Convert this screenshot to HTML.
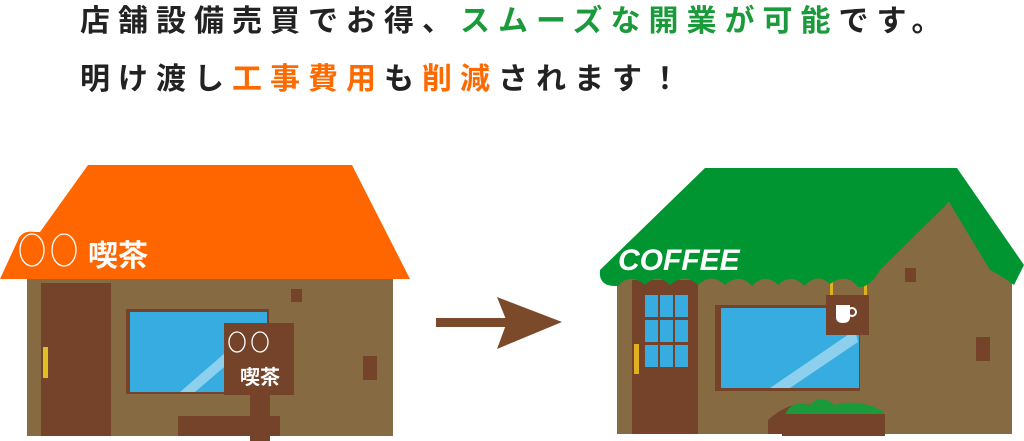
<!DOCTYPE html>
<html><head><meta charset="utf-8"><style>
body{margin:0;width:1024px;height:441px;background:#fff;overflow:hidden;position:relative;font-family:"Liberation Sans","Noto Sans CJK JP",sans-serif}
.t{position:absolute;left:80px;font-size:30px;font-weight:bold;letter-spacing:8px;color:#222;white-space:nowrap;line-height:40px}
.g{color:#1a9a3a}.o{color:#ff6a00}
</style></head><body>
<div class="t" style="top:2px">店舗設備売買でお得、<span class="g">スムーズな開業が可能</span>です。</div>
<div class="t" style="top:60px">明け渡し<span class="o">工事費用</span>も<span class="o">削減</span>されます！</div>
<svg width="1024" height="441" style="position:absolute;left:0;top:0">
<!-- left house -->
<rect x="27" y="276" width="366" height="160" fill="#866a42"/>
<rect x="41" y="283" width="70" height="153" fill="#75432a"/>
<rect x="43" y="347" width="5" height="31" fill="#e0c020"/>
<rect x="126" y="309" width="143" height="85" fill="#75432a"/>
<rect x="130" y="312" width="137" height="80" fill="#36ace0"/>
<path d="M180 392 L240 340 L250 345 L195 392Z" fill="#8cd0ee"/>
<rect x="291" y="289" width="11" height="13" fill="#75432a"/>
<rect x="363" y="356" width="14" height="24" fill="#75432a"/>
<rect x="178" y="416" width="102" height="20" fill="#75432a"/>
<rect x="250" y="390" width="20" height="51" fill="#75432a"/>
<rect x="224" y="323" width="70" height="72" fill="#75432a"/>
<g fill="none" stroke="#fff" stroke-width="1.3"><ellipse cx="237" cy="342" rx="8" ry="10"/><ellipse cx="260" cy="342" rx="8" ry="10"/></g>
<text x="240" y="384" font-size="20" font-weight="bold" fill="#fff" font-family="Liberation Sans,Noto Sans CJK JP,sans-serif">喫茶</text>
<path d="M88 165 L352 165 L410 279 L0 279 L18 240 Q22 230 35 232 L40 232Z" fill="#ff6600"/>
<g fill="none" stroke="#fff" stroke-width="1.3"><ellipse cx="32" cy="250" rx="12" ry="16"/><ellipse cx="64" cy="250" rx="12" ry="16"/></g>
<text x="88" y="266" font-size="30" font-weight="bold" fill="#fff" font-family="Liberation Sans,Noto Sans CJK JP,sans-serif">喫茶</text>
<!-- arrow -->
<rect x="436" y="318" width="95" height="9" fill="#7a4a2b"/>
<path d="M497 297 L562 322 L497 349 L507 322Z" fill="#7a4a2b"/>
<!-- right house -->
<rect x="617" y="270" width="395" height="164" fill="#866a42"/>
<path d="M860 280 L949 202 L1012 280Z" fill="#866a42"/>
<rect x="632" y="280" width="66" height="154" fill="#75432a"/>
<rect x="643" y="293" width="47" height="76" fill="#75432a"/>
<g fill="#36ace0"><rect x="645" y="295" width="13" height="22"/><rect x="660" y="295" width="13" height="22"/><rect x="675" y="295" width="13" height="22"/><rect x="645" y="320" width="13" height="22"/><rect x="660" y="320" width="13" height="22"/><rect x="675" y="320" width="13" height="22"/><rect x="645" y="345" width="13" height="22"/><rect x="660" y="345" width="13" height="22"/><rect x="675" y="345" width="13" height="22"/></g>
<rect x="634" y="344" width="5" height="30" fill="#e0b020"/>
<rect x="715" y="305" width="145" height="86" fill="#75432a"/>
<rect x="721" y="308" width="138" height="80" fill="#36ace0"/>
<path d="M770 388 L855 330 L858 342 L790 388Z" fill="#8cd0ee"/>
<rect x="905" y="268" width="11" height="14" fill="#75432a"/>
<rect x="976" y="337" width="14" height="24" fill="#75432a"/>
<rect x="830" y="278" width="3" height="20" fill="#e0b020"/><rect x="864" y="285" width="3" height="12" fill="#e0b020"/>
<rect x="826" y="295" width="43" height="40" fill="#75432a"/>
<path d="M836 305 h14 v12 q0 6 -7 6 q-7 0 -7 -6Z" fill="#fff"/><circle cx="852" cy="312" r="4" fill="none" stroke="#fff" stroke-width="2"/>
<path d="M768 420 Q790 400 812 405 L812 434 L768 434Z" fill="#75432a"/>
<path d="M785 415 Q790 400 810 405 Q820 393 835 405 Q860 398 884 412 L884 418 L785 418Z" fill="#1a9a3a"/>
<rect x="782" y="414" width="103" height="22" fill="#75432a"/>
<path d="M705 168 L957 168 L1024 265 L1014 285 Q1000 275 990 270 L949 202 L880 270 Q870 288 858 287 Q847 272 830 284 Q818 272 804 286 Q792 272 778 285 Q765 272 752 286 Q740 272 725 285 Q712 272 698 285 Q685 272 670 285 Q657 272 645 285 Q630 272 618 286 Q598 287 600 270Z" fill="#009530"/>
<text x="618" y="270" font-size="30" font-weight="bold" font-style="italic" fill="#fff" font-family="Liberation Sans,sans-serif">COFFEE</text>
</svg>
</body></html>
